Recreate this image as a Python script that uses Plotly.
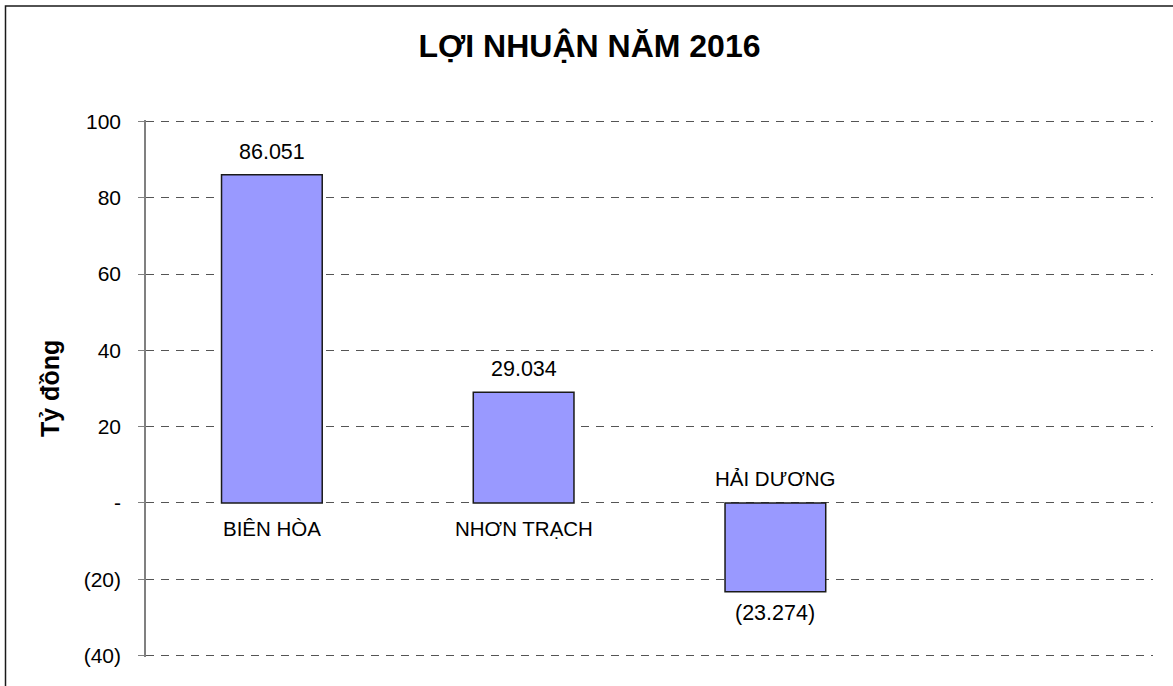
import plotly.graph_objects as go

categories = ["BIÊN HÒA", "NHƠN TRẠCH", "HẢI DƯƠNG"]
profits = [86.051, 29.034, -23.274]
tick_values = [100, 80, 60, 40, 20, 0, -20, -40]
tick_labels = ["100", "80", "60", "40", "20", "-", "(20)", "(40)"]
chart_title = "LỢI NHUẬN NĂM 2016"
y_title = "Tỷ đồng"

FONT = "Liberation Sans, Arial, Helvetica, sans-serif"

def fmt(v):
    s = f"{abs(v):.3f}"
    return f"({s})" if v < 0 else s

xs = list(range(len(categories)))

fig = go.Figure()
fig.add_trace(go.Bar(
    x=xs, y=profits, width=0.4,
    marker=dict(color="#9999FF", line=dict(color="#1a1a1a", width=1.5)),
    hoverinfo="skip", showlegend=False,
))

annotations = []
for x, v, c in zip(xs, profits, categories):
    annotations.append(dict(x=x, y=v, xref="x", yref="y", text=fmt(v), showarrow=False,
                            yanchor="middle", yshift=23 if v >= 0 else -21,
                            font=dict(family=FONT, size=21.5, color="black")))
    annotations.append(dict(x=x, y=0, xref="x", yref="y", text=c, showarrow=False,
                            yanchor="middle", yshift=-26 if v >= 0 else 24,
                            font=dict(family=FONT, size=20.5, color="black")))

annotations.append(dict(x=(50 - 146) / 1007, y=(656 - 389) / 535, xref="paper", yref="paper",
                        text=f"<b>{y_title}</b>", textangle=-90, showarrow=False,
                        xanchor="center", yanchor="middle",
                        font=dict(family=FONT, size=25, color="black")))

fig.update_layout(
    width=1173, height=686,
    margin=dict(l=146, r=20, t=119.5, b=28.5),
    paper_bgcolor="white", plot_bgcolor="white",
    title=dict(text=f"<b>{chart_title}</b>", x=589.5 / 1173, xanchor="center",
               y=1 - 46 / 686, yanchor="middle",
               font=dict(family=FONT, size=32, color="black")),
    xaxis=dict(range=[-0.5, 3.5], showgrid=False, showticklabels=False, ticks="",
               zeroline=False, showline=False, fixedrange=True),
    yaxis=dict(range=[-40.4, 100.4], tickvals=tick_values, ticktext=tick_labels,
               showgrid=True, gridcolor="#555555", griddash="8px,7px", gridwidth=1,
               zeroline=False, showline=True, linecolor="#808080", linewidth=1.5,
               ticks="outside", ticklen=6, tickcolor="#808080", ticklabelstandoff=13,
               tickfont=dict(family=FONT, size=21, color="black"), fixedrange=True),
    annotations=annotations,
    shapes=[dict(type="rect", xref="paper", yref="paper",
                 x0=(5.5 - 146) / 1007, x1=(1190 - 146) / 1007,
                 y0=(656 - 700) / 535, y1=(656 - 7.5) / 535,
                 line=dict(color="#1a1a1a", width=1.5), layer="below")],
)

fig.write_html("out.html", config={"displayModeBar": False},
               post_script="document.body.style.margin='0';")
